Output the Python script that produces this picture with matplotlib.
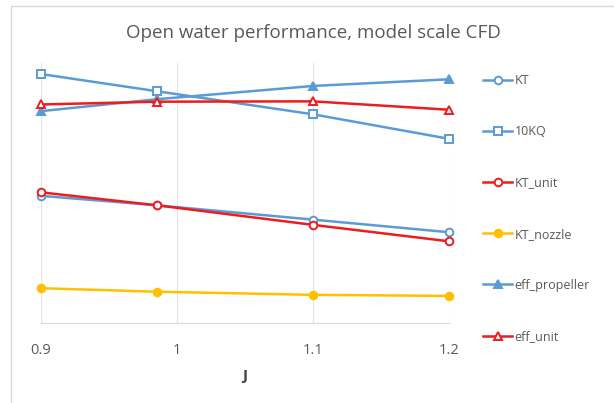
"""Open water performance chart, model scale CFD."""

import matplotlib

matplotlib.use("Agg")
import matplotlib.pyplot as plt
from matplotlib.patches import Rectangle

J = [0.9, 0.985, 1.1, 1.2]

KT = [0.362, 0.335, 0.294, 0.258]
KQ10 = [0.710, 0.661, 0.595, 0.525]
KT_UNIT = [0.372, 0.335, 0.279, 0.232]
KT_NOZZLE = [0.098, 0.088, 0.079, 0.076]
EFF_PROPELLER = [0.604, 0.638, 0.676, 0.695]
EFF_UNIT = [0.623, 0.631, 0.632, 0.608]

X_TICKS = [0.9, 1.0, 1.1, 1.2]
X_TICK_LABELS = ["0.9", "1", "1.1", "1.2"]

BLUE = "#5b9bd5"
RED = "#ee1c1c"
YELLOW = "#ffc000"
GREY_TEXT = "#595959"

SERIES = (
    ("KT", KT, BLUE, "o", "white"),
    ("10KQ", KQ10, BLUE, "s", "white"),
    ("KT_unit", KT_UNIT, RED, "o", "white"),
    ("KT_nozzle", KT_NOZZLE, YELLOW, "o", YELLOW),
    ("eff_propeller", EFF_PROPELLER, BLUE, "^", BLUE),
    ("eff_unit", EFF_UNIT, RED, "^", "white"),
)

plt.rcParams["font.family"] = ["Open Sans", "DejaVu Sans"]

fig = plt.figure(figsize=(6.14, 4.03), dpi=100)
fig.patches.append(
    Rectangle((11 / 614, -0.1), 1.2, 1.1 - 6 / 403, transform=fig.transFigure,
              fill=False, edgecolor="#d9d9d9", linewidth=1.0)
)

ax = fig.add_axes([41 / 614, 1 - 322.5 / 403, 408 / 614, 260 / 403])
lines = []
for label, values, color, marker, face in SERIES:
    (line,) = ax.plot(J, values, color=color, linewidth=1.8, marker=marker,
                      markersize=5.5, markerfacecolor=face, markeredgecolor=color,
                      markeredgewidth=1.4, label=label, clip_on=False, zorder=3)
    lines.append(line)

ax.set_xlim(0.9, 1.2)
ax.set_ylim(0, 0.743)
ax.set_xticks(X_TICKS)
ax.set_xticklabels(X_TICK_LABELS)
ax.set_yticks([])
ax.grid(True, axis="x", color="#e3e3e3", linewidth=0.8)
for side in ("top", "right", "left"):
    ax.spines[side].set_visible(False)
ax.spines["bottom"].set_color("#d9d9d9")
ax.tick_params(axis="x", length=0, pad=15, labelsize=10.5, labelcolor=GREY_TEXT)
ax.set_xlabel("J", fontsize=11, fontweight="bold", color="#404040", labelpad=8)

fig.text(313 / 614, 1 - 33 / 403, "Open water performance, model scale CFD",
         ha="center", va="center", fontsize=13.5, color=GREY_TEXT)

fig.legend(lines, [s[0] for s in SERIES], loc="upper left",
           bbox_to_anchor=(472 / 614, 1 - 63 / 403), frameon=False,
           labelspacing=3.05, handlelength=2.3, handletextpad=0.2,
           fontsize=9, labelcolor=GREY_TEXT)

fig.savefig("out.png", dpi=100)
